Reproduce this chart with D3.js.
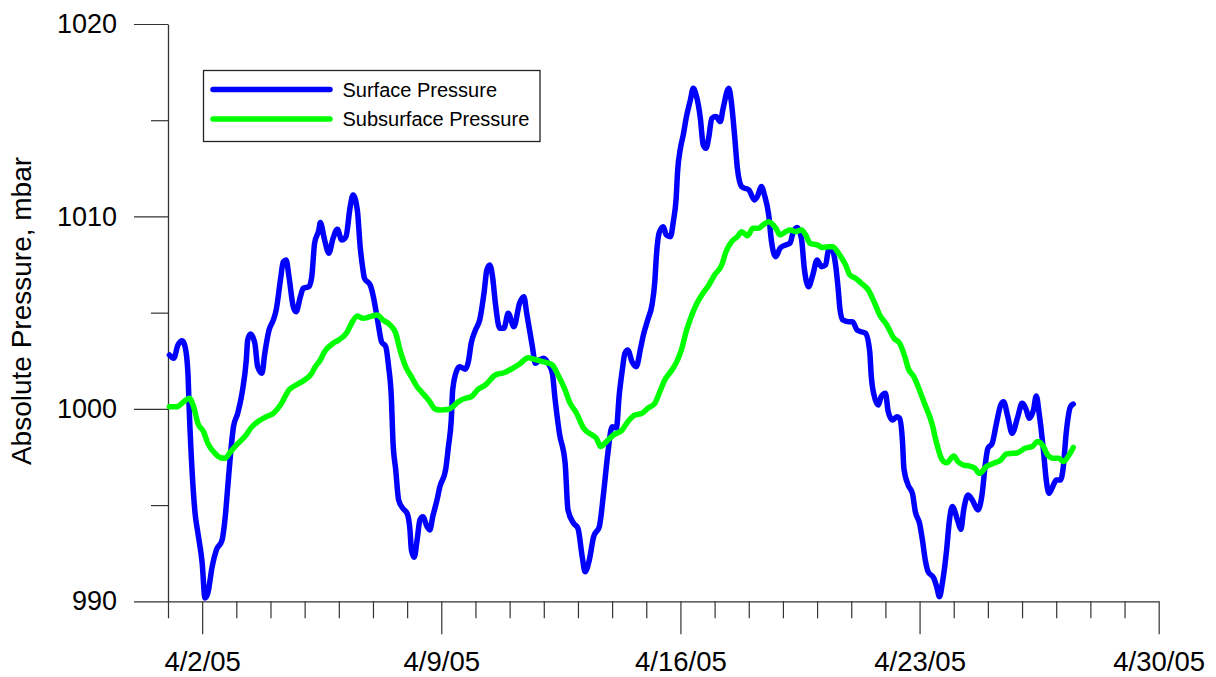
<!DOCTYPE html>
<html>
<head>
<meta charset="utf-8">
<script src="https://cdn.jsdelivr.net/npm/d3@7/dist/d3.min.js"></script>
<style>
  html, body { margin: 0; padding: 0; background: #fff; }
  svg { display: block; }
  text { font-family: "Liberation Sans", Arial, sans-serif; fill: #000; }
</style>
</head>
<body>
<svg id="chart" width="1216" height="677"></svg>
<script>
// Hours since 4/1/05 00:00 and absolute pressure (mbar) for each gauge
const surfaceHours = [1,4,7,10,12,14,15,17,19,21,24,26,28,31,34,38,40,42,44,46,49,52,55,56,58,61,63,66,68,71,74,76,79,81,83,85,88,90,93,95,99,101,103,106,107,110,113,116,119,122,125,128,130,133,135,137,138,142,144,146,148,150,153,155,157,158,160,162,165,168,170,171,173,175,177,179,182,184,186,189,191,195,197,199,200,203,205,209,211,213,216,219,222,224,226,228,230,233,236,239,243,247,250,252,256,258,261,264,267,270,272,275,279,281,285,288,291,293,296,299,303,306,309,312,315,317,319,321,323,326,329,332,334,337,340,342,343,345,348,350,353,355,357,358,360,362,364,367,369,371,374,376,378,380,382,385,388,390,394,396,398,400,403,405,408,412,414,417,419,422,424,427,430,434,437,439,442,445,447,450,453,456,459,462,464,466,469,471,472,474,478,481,484,487,490,493,494,496,499,501,504,506,509,512,514,516,517,520,523,525,528,530,532,534,538,540,542,544,547,549,551,555,557,559,562,565,569,572,574,576,579,582,585,587,590,593,597,600,603,605,608,610,612,615,617,619,622,624,627,629,631,634,636];
const surfaceValues = [1002.80,1002.63,1003.32,1003.54,1003.23,1001.85,999.79,996.67,994.59,993.55,991.99,990.17,990.43,991.80,992.67,993.19,994.23,995.96,997.71,999.07,999.77,1000.81,1002.54,1003.58,1003.89,1003.41,1002.19,1001.85,1002.89,1004.10,1004.62,1005.14,1006.70,1007.65,1007.74,1006.87,1005.31,1005.05,1005.83,1006.27,1006.35,1006.87,1008.61,1009.30,1009.68,1008.78,1008.09,1008.87,1009.33,1008.78,1008.95,1010.51,1011.12,1010.34,1008.43,1007.22,1006.79,1006.44,1005.92,1005.14,1004.27,1003.49,1003.23,1002.19,1000.46,998.38,996.82,995.27,994.83,994.57,993.71,992.67,992.29,993.19,994.23,994.40,993.88,993.71,994.40,995.27,995.96,996.82,998.04,999.42,1000.98,1002.02,1002.19,1002.06,1002.45,1003.41,1004.10,1004.62,1006.01,1007.22,1007.48,1006.87,1005.49,1004.19,1004.19,1004.97,1004.27,1005.49,1005.83,1004.97,1003.23,1002.37,1002.54,1002.63,1002.37,1001.85,1000.46,998.73,997.17,994.75,994.05,993.79,992.32,991.54,992.15,993.36,993.88,995.61,997.69,999.07,999.01,1000.72,1001.93,1002.89,1003.06,1002.45,1002.19,1003.15,1003.84,1004.62,1005.40,1006.61,1007.83,1009.13,1009.47,1009.04,1008.95,1009.73,1010.95,1012.33,1013.54,1014.24,1015.10,1016.06,1016.66,1016.32,1015.10,1013.72,1013.54,1014.15,1015.10,1015.19,1014.93,1015.62,1016.66,1015.80,1014.24,1012.51,1011.55,1011.47,1011.38,1010.86,1011.03,1011.55,1011.12,1010.08,1008.69,1007.91,1008.35,1008.52,1008.61,1009.13,1009.42,1008.87,1007.31,1006.35,1006.96,1007.74,1007.39,1007.48,1008.26,1008.35,1007.48,1006.09,1005.23,1004.62,1004.53,1004.53,1004.10,1004.01,1003.93,1002.97,1001.76,1000.72,1000.20,1000.63,1000.81,999.85,999.42,999.59,999.51,998.30,996.91,996.04,995.61,994.66,994.05,993.19,992.15,991.54,991.20,990.76,990.24,990.94,992.67,994.23,994.92,994.14,993.74,994.75,995.52,995.27,994.75,995.61,997.00,997.95,998.21,999.25,1000.20,1000.37,999.59,998.73,999.59,1000.29,999.94,999.51,999.94,1000.67,999.77,997.86,996.30,995.61,996.04,996.30,996.30,997.00,998.73,1000.11,1000.25];

const subsurfaceHours = [1,6,11,15,18,21,25,28,33,37,40,44,48,54,59,63,69,74,79,85,90,96,101,103,107,110,116,120,126,129,133,137,142,147,151,156,160,163,167,171,175,178,183,188,192,197,200,204,209,213,218,223,230,236,241,247,253,259,266,270,274,279,282,287,292,298,301,304,308,313,319,323,328,333,337,342,346,349,354,358,361,364,368,371,375,380,384,389,392,396,400,403,407,411,415,418,422,427,430,434,437,441,445,448,451,456,460,464,467,471,476,479,483,487,492,496,500,505,510,514,518,520,524,527,531,537,540,544,547,552,555,559,563,567,570,575,580,585,589,594,597,602,607,611,615,618,622,626,629,633,636];
const subsurfaceValues = [1000.11,1000.11,1000.37,1000.55,1000.11,999.25,998.81,998.21,997.69,997.46,997.43,997.78,998.12,998.56,999.07,999.33,999.59,999.77,1000.20,1000.98,1001.24,1001.50,1001.85,1002.13,1002.54,1002.97,1003.41,1003.58,1004.01,1004.45,1004.83,1004.71,1004.79,1004.88,1004.62,1004.36,1003.93,1003.06,1002.19,1001.67,1001.15,1000.89,1000.46,999.98,999.94,999.98,1000.11,1000.37,1000.55,1000.63,1001.02,1001.24,1001.76,1001.88,1002.06,1002.33,1002.66,1002.54,1002.40,1002.28,1001.76,1000.98,1000.37,999.77,998.99,998.64,998.47,998.04,998.30,998.64,998.90,999.33,999.68,999.77,1000.03,1000.29,1000.98,1001.50,1002.02,1002.54,1003.15,1004.01,1004.88,1005.40,1005.92,1006.44,1006.96,1007.48,1008.17,1008.69,1008.95,1009.21,1009.00,1009.39,1009.39,1009.56,1009.73,1009.39,1009.04,1009.21,1009.30,1009.21,1009.30,1009.04,1008.61,1008.52,1008.38,1008.43,1008.43,1008.09,1007.48,1006.96,1006.79,1006.53,1006.18,1005.57,1004.88,1004.36,1003.67,1003.41,1002.63,1002.11,1001.67,1001.15,1000.37,999.16,998.21,997.34,997.20,997.55,997.26,997.08,997.03,996.91,996.65,997.00,997.17,997.34,997.66,997.69,997.72,997.95,998.04,998.30,998.04,997.60,997.43,997.43,997.26,997.60,998.00];

// Axis ticks and labels
const xMajorLabels = ["4/2/05", "4/9/05", "4/16/05", "4/23/05", "4/30/05"];
const yMajorTicks = [990, 1000, 1010, 1020];
const yMinorTicks = [995, 1005, 1015];
const seriesNames = ["Surface Pressure", "Subsurface Pressure"];
const seriesColors = ["#0000ff", "#00ff00"];

const parseDay = d3.utcParse("%m/%d/%y");
const startDate = new Date(Date.UTC(2005, 3, 1));
const endDate = new Date(Date.UTC(2005, 3, 30));
const hourToDate = h => new Date(startDate.getTime() + h * 3600 * 1000);

const svg = d3.select("#chart");
const x = d3.scaleUtc().domain([startDate, endDate]).range([168, 1158.7]);
const y = d3.scaleLinear().domain([990, 1020]).range([601.3, 24]);

const axisColor = "#333";

// Minor x ticks: one per day
const majorDates = xMajorLabels.map(parseDay);
const majorSet = new Set(majorDates.map(d => +d));
const dayTicks = d3.utcDay.range(startDate, endDate).filter(d => !majorSet.has(+d));

const gx = svg.append("g").attr("transform", `translate(0,${y(990)})`);
gx.append("g")
  .call(d3.axisBottom(x).tickValues(dayTicks).tickSize(17).tickSizeOuter(0).tickFormat(""))
  .call(g => g.select(".domain").remove());
gx.append("g")
  .call(d3.axisBottom(x).tickValues(majorDates).tickSize(33).tickSizeOuter(0).tickPadding(17)
    .tickFormat((d, i) => xMajorLabels[i]))
  .call(g => g.select(".domain").attr("stroke", axisColor).attr("stroke-width", 1.3))
  .call(g => g.selectAll("text").attr("font-size", 27.5).attr("font-family", null));
gx.selectAll(".tick line").attr("stroke", axisColor).attr("stroke-width", 1.2);

const gy = svg.append("g").attr("transform", `translate(${x(startDate)},0)`);
gy.append("g")
  .call(d3.axisLeft(y).tickValues(yMinorTicks).tickSize(17).tickSizeOuter(0).tickFormat(""))
  .call(g => g.select(".domain").remove());
gy.append("g")
  .call(d3.axisLeft(y).tickValues(yMajorTicks).tickSize(34).tickSizeOuter(0).tickPadding(17)
    .tickFormat(d3.format("d")))
  .call(g => g.select(".domain").attr("stroke", axisColor).attr("stroke-width", 1.3))
  .call(g => g.selectAll("text").attr("font-size", 27).attr("font-family", null));
gy.selectAll(".tick line").attr("stroke", axisColor).attr("stroke-width", 1.2);

// Y axis title
svg.append("text")
  .attr("transform", "translate(31,311) rotate(-90)")
  .attr("text-anchor", "middle")
  .attr("font-size", 28)
  .text("Absolute Pressure, mbar");

// Pressure traces
const line = d3.line()
  .x(d => x(hourToDate(d[0])))
  .y(d => y(d[1]))
  .curve(d3.curveMonotoneX);

const series = [
  d3.zip(surfaceHours, surfaceValues),
  d3.zip(subsurfaceHours, subsurfaceValues)
];

series.forEach((pts, i) => {
  svg.append("path")
    .datum(pts)
    .attr("fill", "none")
    .attr("stroke", seriesColors[i])
    .attr("stroke-width", 5.5)
    .attr("stroke-linejoin", "round")
    .attr("stroke-linecap", "round")
    .attr("d", line);
});

// Legend
const legend = svg.append("g");
legend.append("rect")
  .attr("x", 203.5).attr("y", 70.5)
  .attr("width", 336.5).attr("height", 71)
  .attr("fill", "#fff")
  .attr("stroke", "#222")
  .attr("stroke-width", 1.3);
seriesNames.forEach((name, i) => {
  const ly = 89.5 + i * 29.5;
  legend.append("line")
    .attr("x1", 213).attr("x2", 330)
    .attr("y1", ly).attr("y2", ly)
    .attr("stroke", seriesColors[i])
    .attr("stroke-width", 5.5)
    .attr("stroke-linecap", "round");
  legend.append("text")
    .attr("x", 342.5).attr("y", ly)
    .attr("dy", "0.35em")
    .attr("font-size", 20)
    .text(name);
});
</script>
</body>
</html>
